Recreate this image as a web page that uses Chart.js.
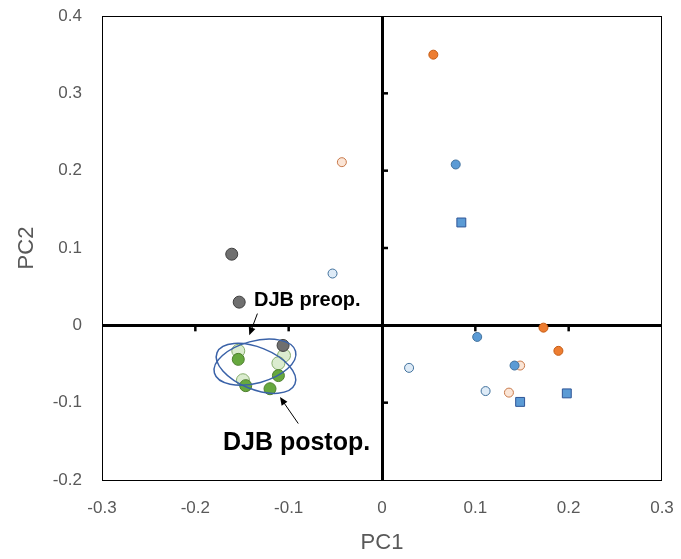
<!DOCTYPE html>
<html>
<head>
<meta charset="utf-8">
<script src="https://cdn.jsdelivr.net/npm/chart.js@4.4.1/dist/chart.umd.min.js"></script>
<style>
  html, body { margin: 0; padding: 0; background: #fff; }
  #wrap { width: 681px; height: 559px; }
</style>
</head>
<body>
<div id="wrap"><canvas id="myChart" width="681" height="559"></canvas></div>
<script>
// tick labels
let xTicks = [-0.3, -0.2, -0.1, 0, 0.1, 0.2, 0.3];
let yTicks = [-0.2, -0.1, 0, 0.1, 0.2, 0.3, 0.4];

// groups (PC1, PC2)
let grayX = [-0.161, -0.153, -0.106];
let grayY = [0.092, 0.030, -0.026];
let greenX = [-0.154, -0.111, -0.146, -0.120];
let greenY = [-0.044, -0.065, -0.078, -0.082];
let paleGreenX = [-0.154, -0.105, -0.111, -0.149];
let paleGreenY = [-0.033, -0.039, -0.049, -0.071];
let orangeX = [0.055, 0.173, 0.189];
let orangeY = [0.350, -0.003, -0.033];
let lightOrangeX = [-0.043, 0.148, 0.136];
let lightOrangeY = [0.211, -0.052, -0.087];
let blueX = [0.079, 0.102, 0.142];
let blueY = [0.208, -0.015, -0.052];
let lightBlueX = [-0.053, 0.029, 0.111];
let lightBlueY = [0.067, -0.055, -0.085];
let squareX = [0.085, 0.148, 0.198];
let squareY = [0.133, -0.099, -0.088];

function pts(xs, ys) {
  return xs.map((x, i) => ({ x: x, y: ys[i] }));
}

function ds(xs, ys, fill, border, r, style) {
  return {
    data: pts(xs, ys),
    backgroundColor: fill,
    borderColor: border,
    borderWidth: 1,
    pointRadius: r,
    pointHoverRadius: r,
    pointStyle: style || 'circle'
  };
}

// annotations (data coordinates)
let labels = [
  { text: "DJB preop.", x: -0.1372, y: 0.0317, size: 20 },
  { text: "DJB postop.", x: -0.1704, y: -0.1527, size: 25 }
];
let arrows = [
  { x1: -0.1335, y1: 0.0152, x2: -0.1422, y2: -0.0129 },
  { x1: -0.0897, y1: -0.127, x2: -0.1093, y2: -0.0928 }
];
let ellipses = [
  { x: -0.135, y: -0.0556, rx: 42, ry: 21, rot: 22 },
  { x: -0.1361, y: -0.0476, rx: 42, ry: 21, rot: -15 }
];

const extras = {
  id: 'extras',
  afterDatasetsDraw(chart) {
    const ctx = chart.ctx;
    const xs = chart.scales.x, ys = chart.scales.y;
    const a = chart.chartArea;
    const x0 = xs.getPixelForValue(0), y0 = ys.getPixelForValue(0);
    ctx.save();
    // frame
    ctx.strokeStyle = '#000';
    ctx.lineWidth = 1;
    ctx.strokeRect(a.left + 0.5, a.top + 0.5, a.right - a.left - 1, a.bottom - a.top);
    // small ticks on the zero axes
    ctx.lineWidth = 2.5;
    xTicks.forEach(v => {
      if (v === 0 || v === xTicks[0] || v === xTicks[xTicks.length - 1]) return;
      const px = xs.getPixelForValue(v);
      ctx.beginPath(); ctx.moveTo(px, y0); ctx.lineTo(px, y0 + 6); ctx.stroke();
    });
    yTicks.forEach(v => {
      if (v === 0 || v === yTicks[0] || v === yTicks[yTicks.length - 1]) return;
      const py = ys.getPixelForValue(v);
      ctx.beginPath(); ctx.moveTo(x0, py); ctx.lineTo(x0 + 6, py); ctx.stroke();
    });
    // ellipses
    ctx.strokeStyle = '#3a62a8';
    ctx.lineWidth = 1.5;
    ellipses.forEach(e => {
      ctx.beginPath();
      ctx.ellipse(xs.getPixelForValue(e.x), ys.getPixelForValue(e.y), e.rx, e.ry, e.rot * Math.PI / 180, 0, Math.PI * 2);
      ctx.stroke();
    });
    // arrows
    ctx.strokeStyle = '#000';
    ctx.fillStyle = '#000';
    ctx.lineWidth = 1;
    arrows.forEach(ar => {
      const ax = xs.getPixelForValue(ar.x1), ay = ys.getPixelForValue(ar.y1);
      const bx = xs.getPixelForValue(ar.x2), by = ys.getPixelForValue(ar.y2);
      const ang = Math.atan2(by - ay, bx - ax);
      ctx.beginPath(); ctx.moveTo(ax, ay); ctx.lineTo(bx - 5 * Math.cos(ang), by - 5 * Math.sin(ang)); ctx.stroke();
      ctx.beginPath();
      ctx.moveTo(bx, by);
      ctx.lineTo(bx - 8 * Math.cos(ang) + 3.5 * Math.sin(ang), by - 8 * Math.sin(ang) - 3.5 * Math.cos(ang));
      ctx.lineTo(bx - 8 * Math.cos(ang) - 3.5 * Math.sin(ang), by - 8 * Math.sin(ang) + 3.5 * Math.cos(ang));
      ctx.closePath(); ctx.fill();
    });
    // labels
    ctx.textBaseline = 'middle';
    ctx.textAlign = 'left';
    labels.forEach(l => {
      ctx.font = 'bold ' + l.size + 'px "Liberation Sans", Arial, sans-serif';
      ctx.fillText(l.text, xs.getPixelForValue(l.x), ys.getPixelForValue(l.y));
    });
    ctx.restore();
  }
};

const tickFont = { family: '"Liberation Sans", Arial, sans-serif', size: 17 };
const titleFont = { family: '"Liberation Sans", Arial, sans-serif', size: 22 };

var ctx = document.getElementById('myChart').getContext('2d');
var myChart = new Chart(ctx, {
  type: 'scatter',
  data: {
    datasets: [
      ds(grayX, grayY, '#6f6f6f', '#3f3f3f', 6),
      ds(greenX, greenY, '#66a83e', '#4e7f2e', 6),
      ds(paleGreenX, paleGreenY, '#dbeccf', '#86ad6b', 6.5),
      ds(blueX, blueY, '#5b9bd5', '#41719c', 4.5),
      ds(squareX, squareY, '#5b9bd5', '#2f5597', 6.3, 'rect'),
      ds(orangeX, orangeY, '#ed7d31', '#c55a11', 4.5),
      ds(lightOrangeX, lightOrangeY, '#fbe5d6', '#c8794a', 4.5),
      ds(lightBlueX, lightBlueY, '#deebf7', '#41719c', 4.5)
    ]
  },
  options: {
    responsive: false,
    animation: false,
    events: [],
    layout: { padding: { top: 16, right: 19, left: 0, bottom: 0 } },
    plugins: { legend: { display: false }, tooltip: { enabled: false } },
    scales: {
      x: {
        type: 'linear',
        min: -0.3, max: 0.3,
        afterBuildTicks: s => { s.ticks = xTicks.map(v => ({ value: v })); },
        afterFit: s => { s.height = 79; s.paddingLeft = 0; s.paddingRight = 0; },
        ticks: {
          color: '#595959', font: tickFont, padding: 18,
          callback: v => String(Number(v.toFixed(1)))
        },
        grid: {
          drawTicks: false,
          color: c => (c.tick && c.tick.value === 0 ? '#000' : 'rgba(0,0,0,0)'),
          lineWidth: c => (c.tick && c.tick.value === 0 ? 3 : 0)
        },
        border: { display: true, color: '#000', width: 1 },
        title: { display: true, text: 'PC1', color: '#595959', font: titleFont, padding: { top: 0, bottom: 3 } }
      },
      y: {
        type: 'linear',
        min: -0.2, max: 0.4,
        afterBuildTicks: s => { s.ticks = yTicks.map(v => ({ value: v })); },
        afterFit: s => { s.width = 102; s.paddingTop = 0; s.paddingBottom = 0; },
        ticks: {
          color: '#595959', font: tickFont, padding: 20,
          callback: v => String(Number(v.toFixed(1)))
        },
        grid: {
          drawTicks: false,
          color: c => (c.tick && c.tick.value === 0 ? '#000' : 'rgba(0,0,0,0)'),
          lineWidth: c => (c.tick && c.tick.value === 0 ? 3 : 0)
        },
        border: { display: true, color: '#000', width: 1 },
        title: { display: true, text: 'PC2', color: '#595959', font: titleFont, padding: { top: 14, bottom: 0 } }
      }
    }
  },
  plugins: [extras]
});
</script>
</body>
</html>
